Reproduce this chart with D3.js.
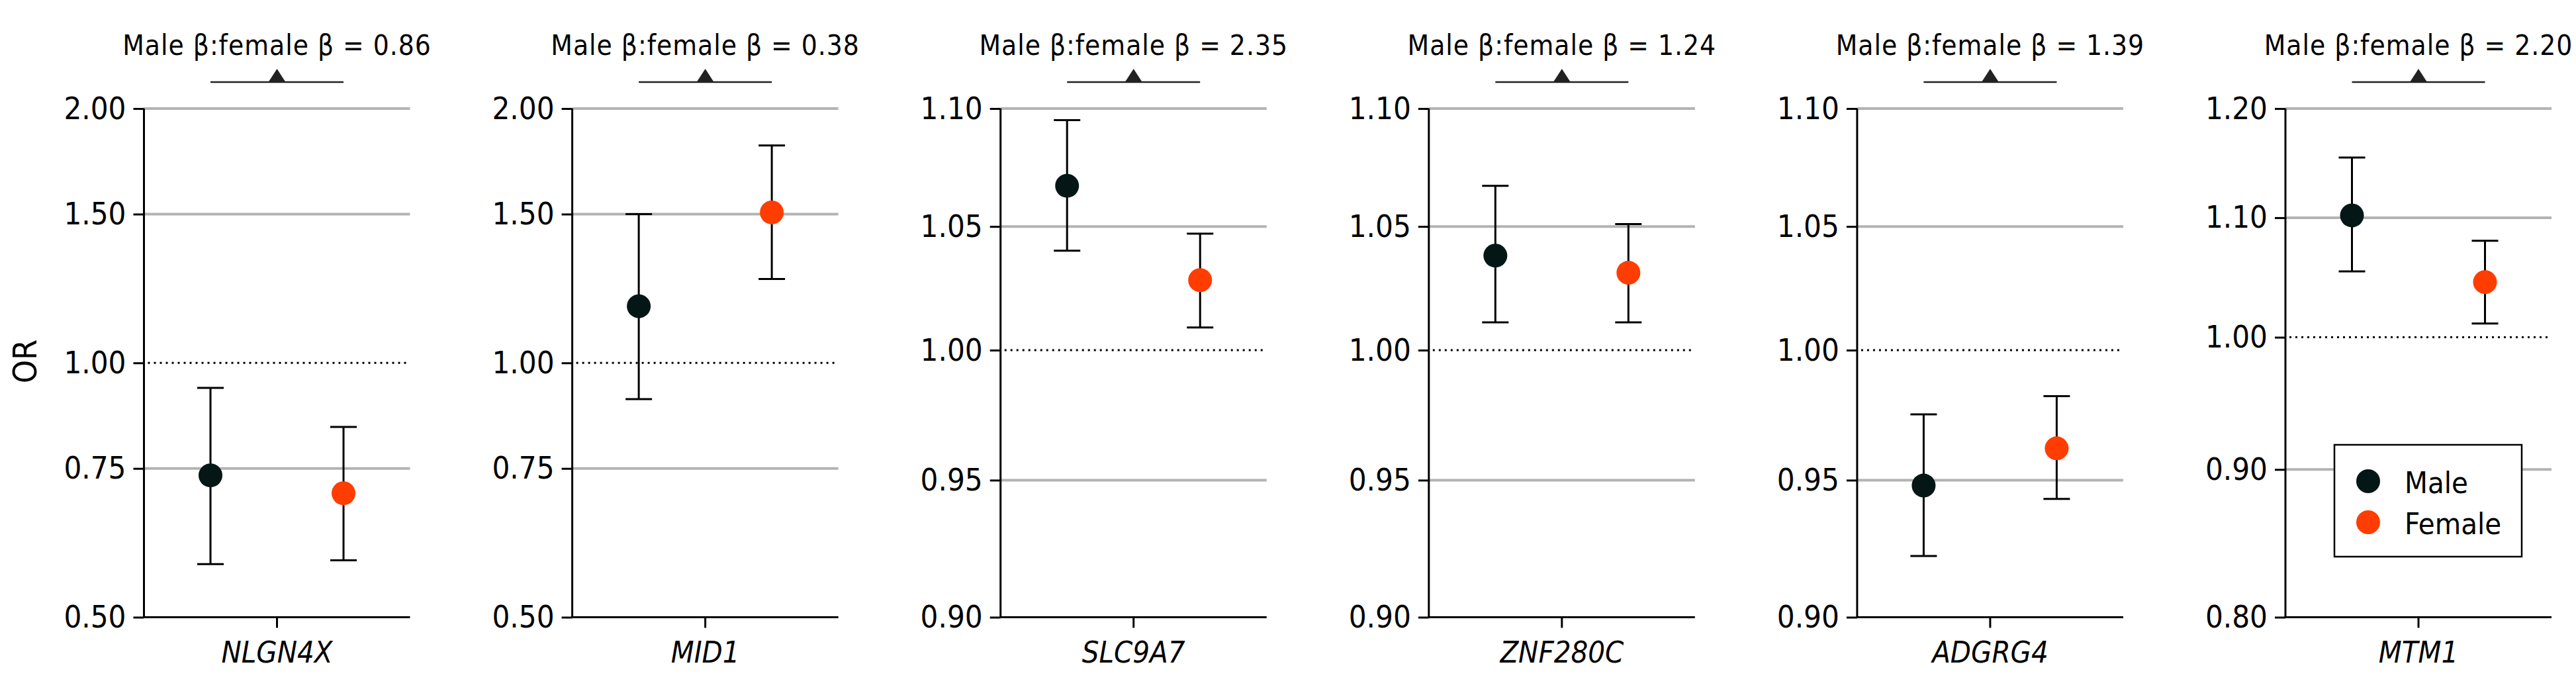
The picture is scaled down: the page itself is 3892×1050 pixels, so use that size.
<!DOCTYPE html>
<html>
<head>
<meta charset="utf-8">
<script src="https://cdn.jsdelivr.net/npm/d3@7"></script>
<style>
  html, body { margin: 0; padding: 0; background: #fff; }
  svg { display: block; }
  text { font-family: "DejaVu Sans Condensed", "DejaVu Sans", sans-serif; font-stretch: condensed; fill: #000; }
</style>
</head>
<body>
<svg id="chart" width="3892" height="1050"></svg>
<script>
// ---- data ----
const genes = ["NLGN4X", "MID1", "SLC9A7", "ZNF280C", "ADGRG4", "MTM1"];
const ratioLabels = ["0.86", "0.38", "2.35", "1.24", "1.39", "2.20"];
const sexes = ["Male", "Female"];
const maleOR = [0.736, 1.167, 1.067, 1.038, 0.948, 1.102];
const maleLo = [0.578, 0.906, 1.040, 1.011, 0.922, 1.054];
const maleHi = [0.934, 1.500, 1.095, 1.067, 0.975, 1.154];
const femaleOR = [0.701, 1.507, 1.028, 1.031, 0.962, 1.045];
const femaleLo = [0.584, 1.257, 1.009, 1.011, 0.943, 1.011];
const femaleHi = [0.840, 1.809, 1.047, 1.051, 0.982, 1.080];
const yDomains = [[0.5, 2], [0.5, 2], [0.9, 1.1], [0.9, 1.1], [0.9, 1.1], [0.8, 1.2]];
const yTickValues = [
  [0.5, 0.75, 1, 1.5, 2],
  [0.5, 0.75, 1, 1.5, 2],
  [0.9, 0.95, 1, 1.05, 1.1],
  [0.9, 0.95, 1, 1.05, 1.1],
  [0.9, 0.95, 1, 1.05, 1.1],
  [0.8, 0.9, 1, 1.1, 1.2]
];
const yLabel = "OR";

// ---- layout ----
const colors = { Male: "#041616", Female: "#ff3d00" };
const firstAxisX = 217.5, panelStep = 647.1, plotW = 402;
const plotTop = 164, plotBottom = 932.5;
const fmt = d3.format(".2f");

const svg = d3.select("#chart");

genes.forEach((gene, i) => {
  const g = svg.append("g").attr("transform", `translate(${firstAxisX + i * panelStep},0)`);
  const y = d3.scaleLog().domain(yDomains[i]).range([plotBottom, plotTop]);
  const x = d3.scalePoint().domain(sexes).range([0, plotW]).padding(0.5);

  // gridlines (except at 1.00 and bottom)
  g.selectAll("line.grid")
    .data(yTickValues[i].filter(v => v !== 1 && v !== yDomains[i][0]))
    .join("line")
    .attr("x1", 0).attr("x2", plotW)
    .attr("y1", d => y(d)).attr("y2", d => y(d))
    .attr("stroke", "#b3b3b3").attr("stroke-width", 4);

  // reference line at 1.00
  g.append("line")
    .attr("x1", 6).attr("x2", plotW)
    .attr("y1", y(1)).attr("y2", y(1))
    .attr("stroke", "#000").attr("stroke-width", 3)
    .attr("stroke-dasharray", "3,6");

  // y axis
  const ya = g.append("g").call(
    d3.axisLeft(y).tickValues(yTickValues[i]).tickFormat(fmt).tickSize(16).tickPadding(11)
  );
  ya.select(".domain").attr("stroke-width", 3).attr("d", `M0,${plotTop}V${plotBottom}`);
  ya.selectAll(".tick line").attr("stroke-width", 3);
  ya.selectAll(".tick text").attr("font-size", 47).attr("fill", "#000")
    .style("font-family", '"DejaVu Sans Condensed", "DejaVu Sans", sans-serif');

  // x axis
  const xa = g.append("g").attr("transform", `translate(0,${plotBottom})`);
  xa.append("line").attr("x1", 0).attr("x2", plotW).attr("stroke", "#000").attr("stroke-width", 3);
  xa.append("line").attr("x1", plotW / 2).attr("x2", plotW / 2).attr("y1", 0).attr("y2", 16)
    .attr("stroke", "#000").attr("stroke-width", 3);
  xa.append("text").attr("x", plotW / 2).attr("y", 68).attr("text-anchor", "middle")
    .attr("font-size", 45).attr("font-style", "italic").text(gene);

  // data
  const rows = [
    { sex: "Male", or: maleOR[i], lo: maleLo[i], hi: maleHi[i] },
    { sex: "Female", or: femaleOR[i], lo: femaleLo[i], hi: femaleHi[i] }
  ];
  const cap = 20;
  rows.forEach(r => {
    const cx = x(r.sex);
    g.append("line").attr("x1", cx).attr("x2", cx).attr("y1", y(r.lo)).attr("y2", y(r.hi))
      .attr("stroke", "#000").attr("stroke-width", 3);
    g.append("line").attr("x1", cx - cap).attr("x2", cx + cap).attr("y1", y(r.hi)).attr("y2", y(r.hi))
      .attr("stroke", "#000").attr("stroke-width", 3);
    g.append("line").attr("x1", cx - cap).attr("x2", cx + cap).attr("y1", y(r.lo)).attr("y2", y(r.lo))
      .attr("stroke", "#000").attr("stroke-width", 3);
    g.append("circle").attr("cx", cx).attr("cy", y(r.or)).attr("r", 18).attr("fill", colors[r.sex]);
  });

  // comparison bracket + title
  const bx1 = x("Male"), bx2 = x("Female"), by = 124, mid = (bx1 + bx2) / 2;
  g.append("line").attr("x1", bx1).attr("x2", bx2).attr("y1", by).attr("y2", by)
    .attr("stroke", "#222").attr("stroke-width", 2.5);
  g.append("path").attr("d", `M${mid - 13},${by}L${mid},${by - 20}L${mid + 13},${by}Z`).attr("fill", "#222");
  g.append("text").attr("x", plotW / 2).attr("y", 83).attr("text-anchor", "middle")
    .attr("font-size", 42).attr("letter-spacing", 1)
    .text(`Male β:female β = ${ratioLabels[i]}`);

  // legend in last panel
  if (i === genes.length - 1) {
    const lg = g.append("g").attr("transform", "translate(74,672)");
    lg.append("rect").attr("width", 283).attr("height", 169)
      .attr("fill", "#fff").attr("stroke", "#000").attr("stroke-width", 2.5);
    sexes.forEach((s, k) => {
      lg.append("circle").attr("cx", 51).attr("cy", 55 + k * 62).attr("r", 18).attr("fill", colors[s]);
      lg.append("text").attr("x", 106).attr("y", 73 + k * 62).attr("font-size", 45).text(s);
    });
  }
});

// y axis title
svg.append("text").attr("transform", `translate(55,546) rotate(-90)`)
  .attr("text-anchor", "middle").attr("font-size", 50).text(yLabel);
</script>
</body>
</html>
